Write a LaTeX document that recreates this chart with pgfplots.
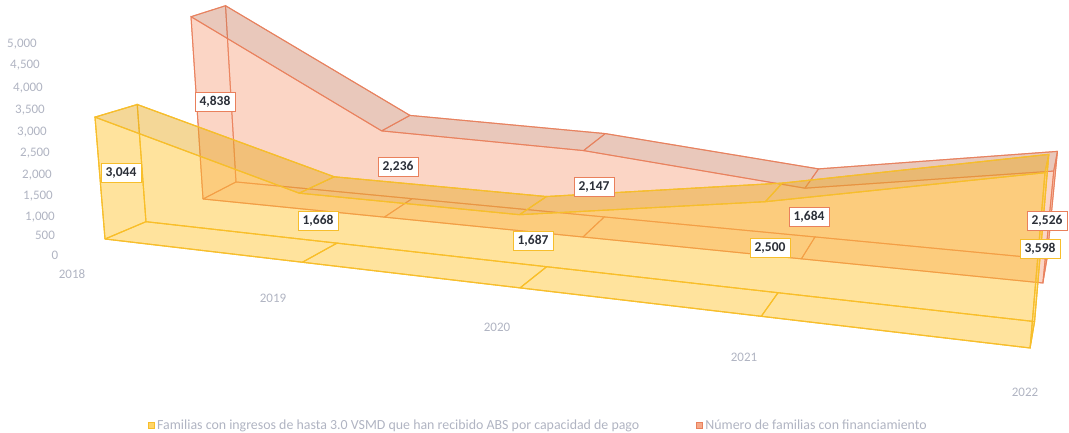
\documentclass[border=0pt]{standalone}
\usepackage{fontspec}
\setmainfont{Carlito}
\usepackage{pgfplots}
\pgfplotsset{compat=1.18}
\definecolor{yedge}{HTML}{F7BE2B}
\definecolor{yfill}{HTML}{FFC126}
\definecolor{ytop}{HTML}{D99A1E}
\definecolor{redge}{HTML}{E9805C}
\definecolor{rfill}{HTML}{F4946C}
\definecolor{rtop}{HTML}{B8775E}
\definecolor{axtxt}{HTML}{B0B4C2}
\definecolor{lbl}{HTML}{2B2F38}

% perspective of the two boxes: i = year index, d = depth 0/1, v = value
\newcommand{\yx}{(105+183.3*\thisrow{i}+47.1*\thisrow{d}-0.00395*\thisrow{v})/(1-0.04657*\thisrow{i}+0.042*\thisrow{d}-0.000007*\thisrow{v})}
\newcommand{\yy}{(239+11.04*\thisrow{i}-8*\thisrow{d}-0.04085*\thisrow{v})/(1-0.04657*\thisrow{i}+0.042*\thisrow{d}-0.000007*\thisrow{v})}
\newcommand{\rx}{(203+164.6*\thisrow{i}+41.6*\thisrow{d}-0.00382*\thisrow{v})/(1-0.0435*\thisrow{i}+0.0365*\thisrow{d}-0.000007*\thisrow{v})}
\newcommand{\ry}{(199+8.69*\thisrow{i}-10.4*\thisrow{d}-0.0378*\thisrow{v})/(1-0.0435*\thisrow{i}+0.0365*\thisrow{d}-0.000007*\thisrow{v})}
\newcommand{\ypoly}[2]{\addplot[forget plot,line width=1.1pt,draw=yedge,#1] table[row sep=\\,x expr={\yx},y expr={\yy}]{i d v\\ #2};}
\newcommand{\rpoly}[2]{\addplot[forget plot,line width=1pt,draw=redge,draw opacity=0.85,#1] table[row sep=\\,x expr={\rx},y expr={\ry}]{i d v\\ #2};}

\pgfplotsset{
  wall/.style={fill=#1,fill opacity=0.22},
  ywall/.style={fill=#1,fill opacity=0.26},
  strip/.style={fill=#1,fill opacity=0.28},
  txtlabels/.style={forget plot,draw=none,mark=none,nodes near coords,point meta=explicit symbolic,
    every node near coord/.style={anchor=center,font=\fontsize{13}{15}\selectfont,text=axtxt}},
  boxlabels/.style={forget plot,draw=none,mark=none,nodes near coords,point meta=explicit symbolic,
    every node near coord/.style={anchor=center,draw=#1,line width=1pt,fill=white,text=lbl,
      minimum width=40pt,minimum height=19pt,inner sep=1pt,font=\bfseries\fontsize{13.5}{15}\selectfont}},
}

\begin{document}
\begin{tikzpicture}
\begin{axis}[
  x=1pt,y=1pt,xmin=0,xmax=1069,ymin=0,ymax=433,y dir=reverse,
  hide axis,clip=false,
  legend columns=2,
  legend style={at={(axis cs:148,425)},anchor=west,draw=none,fill=none,inner sep=0pt,
    font=\fontsize{13.9}{15}\selectfont,text=axtxt,
    /tikz/every even column/.append style={column sep=55pt}},
  legend image code/.code={\draw[#1,line width=1pt] (0pt,-3pt) rectangle (6pt,3pt);},
]
\path[use as bounding box] (axis cs:0,0) rectangle (axis cs:1069,433);
\addlegendimage{draw=yedge,fill=yfill!70}
\addlegendentry{Familias con ingresos de hasta 3.0 VSMD que han recibido ABS por capacidad de pago}
\addlegendimage{draw=redge,fill=rfill!80}
\addlegendentry{Número de familias con financiamiento}

% Numero de familias con financiamiento
\rpoly{wall=rfill}{0 1 0\\ 0 1 4838\\ 1 1 2236\\ 2 1 2147\\ 3 1 1684\\ 4 1 2526\\ 4 1 0\\ 3 1 0\\ 2 1 0\\ 1 1 0\\ 0 1 0\\}
\rpoly{wall=rfill}{0 0 0\\ 1 0 0\\ 1 1 0\\ 0 1 0\\ 0 0 0\\}
\rpoly{wall=rfill}{1 0 0\\ 2 0 0\\ 2 1 0\\ 1 1 0\\ 1 0 0\\}
\rpoly{wall=rfill}{2 0 0\\ 3 0 0\\ 3 1 0\\ 2 1 0\\ 2 0 0\\}
\rpoly{wall=rfill}{3 0 0\\ 4 0 0\\ 4 1 0\\ 3 1 0\\ 3 0 0\\}
\rpoly{wall=rfill}{0 0 0\\ 0 0 4838\\ 0 1 4838\\ 0 1 0\\ 0 0 0\\}
\rpoly{wall=rfill}{4 0 0\\ 4 0 2526\\ 4 1 2526\\ 4 1 0\\ 4 0 0\\}
\rpoly{strip=rtop}{0 0 4838\\ 1 0 2236\\ 1 1 2236\\ 0 1 4838\\ 0 0 4838\\}
\rpoly{strip=rtop}{1 0 2236\\ 2 0 2147\\ 2 1 2147\\ 1 1 2236\\ 1 0 2236\\}
\rpoly{strip=rtop}{2 0 2147\\ 3 0 1684\\ 3 1 1684\\ 2 1 2147\\ 2 0 2147\\}
\rpoly{strip=rtop}{3 0 1684\\ 4 0 2526\\ 4 1 2526\\ 3 1 1684\\ 3 0 1684\\}
\rpoly{wall=rfill}{0 0 0\\ 0 0 4838\\ 1 0 2236\\ 2 0 2147\\ 3 0 1684\\ 4 0 2526\\ 4 0 0\\ 3 0 0\\ 2 0 0\\ 1 0 0\\ 0 0 0\\}

% Familias con ingresos de hasta 3.0 VSMD
\ypoly{ywall=yfill}{0 1 0\\ 0 1 3044\\ 1 1 1668\\ 2 1 1687\\ 3 1 2500\\ 4 1 3598\\ 4 1 0\\ 3 1 0\\ 2 1 0\\ 1 1 0\\ 0 1 0\\}
\ypoly{ywall=yfill}{0 0 0\\ 1 0 0\\ 1 1 0\\ 0 1 0\\ 0 0 0\\}
\ypoly{ywall=yfill}{1 0 0\\ 2 0 0\\ 2 1 0\\ 1 1 0\\ 1 0 0\\}
\ypoly{ywall=yfill}{2 0 0\\ 3 0 0\\ 3 1 0\\ 2 1 0\\ 2 0 0\\}
\ypoly{ywall=yfill}{3 0 0\\ 4 0 0\\ 4 1 0\\ 3 1 0\\ 3 0 0\\}
\ypoly{ywall=yfill}{0 0 0\\ 0 0 3044\\ 0 1 3044\\ 0 1 0\\ 0 0 0\\}
\ypoly{ywall=yfill}{4 0 0\\ 4 0 3598\\ 4 1 3598\\ 4 1 0\\ 4 0 0\\}
\ypoly{strip=ytop}{0 0 3044\\ 1 0 1668\\ 1 1 1668\\ 0 1 3044\\ 0 0 3044\\}
\ypoly{strip=ytop}{1 0 1668\\ 2 0 1687\\ 2 1 1687\\ 1 1 1668\\ 1 0 1668\\}
\ypoly{strip=ytop}{2 0 1687\\ 3 0 2500\\ 3 1 2500\\ 2 1 1687\\ 2 0 1687\\}
\ypoly{strip=ytop}{3 0 2500\\ 4 0 3598\\ 4 1 3598\\ 3 1 2500\\ 3 0 2500\\}
\ypoly{ywall=yfill}{0 0 0\\ 0 0 3044\\ 1 0 1668\\ 2 0 1687\\ 3 0 2500\\ 4 0 3598\\ 4 0 0\\ 3 0 0\\ 2 0 0\\ 1 0 0\\ 0 0 0\\}

% tick labels along the slanted axes
\addplot[txtlabels] table[meta=t]{
x y t
22 44 {5,000}
25 65 {4,500}
28 88 {4,000}
30 110 {3,500}
32 132 {3,000}
35 153 {2,500}
37 175 {2,000}
38 196 {1,500}
40 217 {1,000}
45 235 500
55 255 0
72 274 2018
273 298 2019
497 327 2020
744 357 2021
1025 392 2022
};

% data labels
\addplot[boxlabels=redge] table[meta=t]{
x y t
215 102 {4,838}
398 167 {2,236}
594 187 {2,147}
809 217 {1,684}
1047 221 {2,526}
};
\addplot[boxlabels=yedge] table[meta=t]{
x y t
121 173 {3,044}
318 221 {1,668}
533 241 {1,687}
770 248 {2,500}
1040 249 {3,598}
};
\end{axis}
\end{tikzpicture}
\end{document}
